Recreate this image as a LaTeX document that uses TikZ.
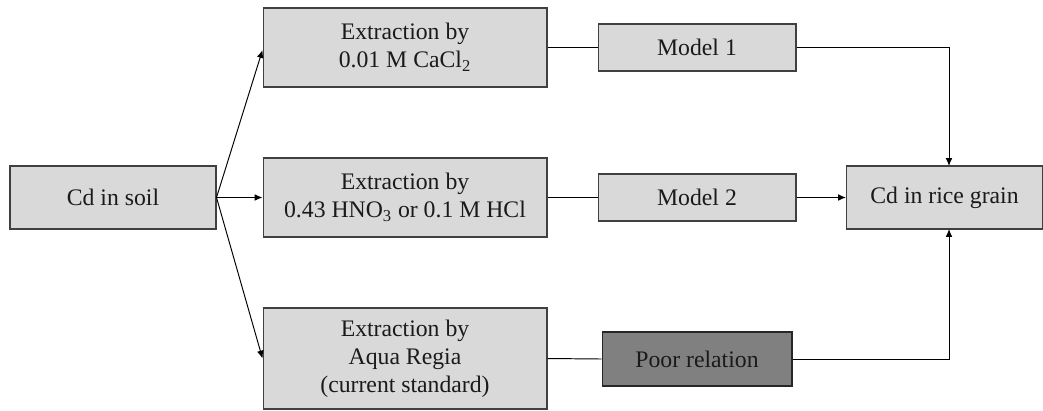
\documentclass[tikz,border=0pt]{standalone}
\usepackage{fontspec}
\setmainfont{Liberation Serif}
\usepackage{tikz}
\definecolor{cdBoxFill}{HTML}{D9D9D9}
\definecolor{cdBoxLine}{HTML}{404040}
\definecolor{cdPoorFill}{HTML}{808080}
\definecolor{cdText}{HTML}{1A1A1A}
\usetikzlibrary{arrows.meta}

\begin{document}
\begin{tikzpicture}[x=0.02cm,y=-0.02cm, every node/.style={font=\fontsize{13.5}{16}\selectfont, align=center, text=cdText},
  box/.style={draw=cdBoxLine, fill=cdBoxFill, line width=0.6pt, inner sep=0pt},
  link/.style={draw=black, line width=0.55pt},
  >={Latex[length=4.5pt,width=3.8pt]}]
  \useasboundingbox (0,0) rectangle (1043,410);
  % sources and extractions
  \node[box, minimum width=4.12cm, minimum height=1.26cm] (soil) at (113,197.5) {Cd in soil};
  \node[box, minimum width=5.68cm, minimum height=1.58cm] (extA) at (405,47.5) {Extraction by\\0.01 M CaCl\textsubscript{2}};
  \node[box, minimum width=5.68cm, minimum height=1.58cm] (extB) at (405,197.5) {Extraction by\\0.43 HNO\textsubscript{3} or 0.1 M HCl};
  \node[box, minimum width=5.68cm, minimum height=2.02cm] (extC) at (405,358.5) {Extraction by\\Aqua Regia\\(current standard)};
  % models and target
  \node[box, minimum width=3.96cm, minimum height=0.94cm] (modA) at (697,47.5) {Model 1};
  \node[box, minimum width=3.96cm, minimum height=0.94cm] (modB) at (697,197.5) {Model 2};
  \node[box, fill=cdPoorFill, draw=black!85, minimum width=3.8cm, minimum height=1.08cm] (poor) at (697,359) {Poor relation};
  \node[box, minimum width=3.92cm, minimum height=1.26cm] (rice) at (944.5,197.5) {Cd in rice grain};
  \coordinate (riceTop) at (949,166);
  \coordinate (riceBot) at (949,229);
  % connectors
  \draw[link,->] (soil.east) -- ([yshift=-0.05cm]extA.west);
  \draw[link,->] (soil.east) -- (extB.west);
  \draw[link,->] (soil.east) -- (extC.west);
  \draw[link] (extA.east) -- (modA.west);
  \draw[link] (extB.east) -- (modB.west);
  \draw[link] (extC.east) -- (poor.west);
  \draw[link,->] (modA.east) -| (riceTop);
  \draw[link,->] (modB.east) -- (rice.west);
  \draw[link,->] (poor.east) -| (riceBot);
\end{tikzpicture}
\end{document}
